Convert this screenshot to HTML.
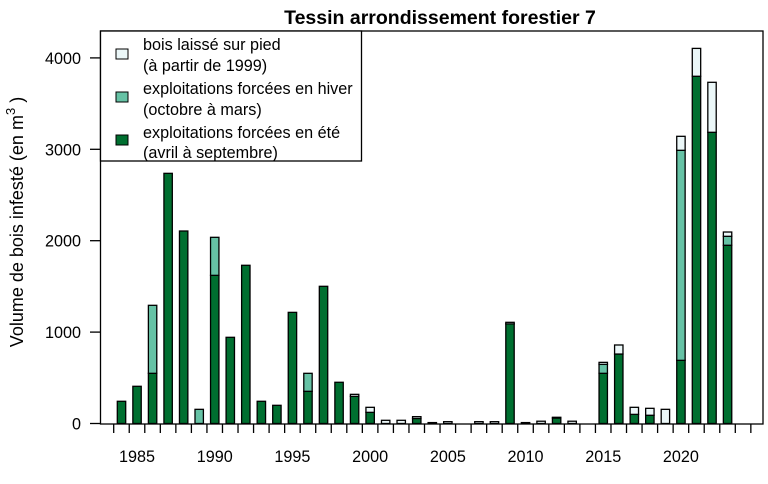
<!DOCTYPE html><html><head><meta charset="utf-8"><style>body{margin:0;background:#fff}svg{display:block;font-family:"Liberation Sans",sans-serif}</style></head><body>
<svg width="768" height="484" xmlns="http://www.w3.org/2000/svg" id="s">
<text x="440" y="24" font-size="19.5" font-weight="bold" text-anchor="middle">Tessin arrondissement forestier 7</text>
<g id="bars" stroke="#000" stroke-width="1.3"></g>
<rect x="100.5" y="31" width="662.5" height="393" fill="none" stroke="#000" stroke-width="1.3"/>
<g id="ax" stroke="#000" stroke-width="1.3"></g>
<g id="lab" font-size="16.2"></g>
<text transform="translate(23,222) rotate(-90)" font-size="18" text-anchor="middle">Volume de bois infesté (en m<tspan dy="-8" font-size="13">3</tspan><tspan dy="8"> )</tspan></text>
<rect x="100.5" y="31" width="261" height="130" fill="#fff" stroke="#000" stroke-width="1.3"/>
<g font-size="16.2" stroke="#000" stroke-width="1">
<rect x="116" y="49" width="12" height="10" fill="#ebf7f8"/>
<rect x="116" y="92" width="12" height="10" fill="#66c2a5"/>
<rect x="116" y="135" width="12" height="10" fill="#006f30"/>
<g stroke="none"><text x="143" y="50">bois laissé sur pied</text><text x="143" y="71">(à partir de 1999)</text>
<text x="143" y="94">exploitations forcées en hiver</text><text x="143" y="115">(octobre à mars)</text>
<text x="143" y="138">exploitations forcées en été</text><text x="143" y="158">(avril à septembre)</text></g></g>
</svg>
<script>
var d={1984:[243,0,0],1985:[407,0,0],1986:[549,744,0],1987:[2737,0,0],1988:[2106,0,0],1989:[0,155,0],1990:[1621,416,0],1991:[943,0,0],1992:[1731,0,0],1993:[243,0,0],1994:[199,0,0],1995:[1216,0,0],1996:[352,197,0],1997:[1501,0,0],1998:[451,0,0],1999:[297,0,22],2000:[122,0,55],2001:[0,0,35],2002:[0,0,35],2003:[55,0,20],2004:[10,0,0],2005:[0,0,20],2007:[0,0,20],2008:[0,0,20],2009:[1090,0,17],2010:[10,0,0],2011:[0,0,25],2012:[60,0,8],2013:[0,0,25],2015:[549,98,22],2016:[760,0,99],2017:[100,0,77],2018:[90,0,76],2019:[0,0,155],2020:[691,2298,153],2021:[3799,0,305],2022:[3186,0,547],2023:[1950,98,47]};
var N="http://www.w3.org/2000/svg",s=0.0914,y0=423.5,col=["#006f30","#66c2a5","#ebf7f8"];
function el(p,t,a,tx){var e=document.createElementNS(N,t);for(var k in a)e.setAttribute(k,a[k]);if(tx!==undefined)e.textContent=tx;document.getElementById(p).appendChild(e);}
for(var y in d){var x=121.5+(y-1984)*15.54-4.2,b=y0;for(var i=0;i<3;i++){var v=d[y][i];if(!v)continue;var h=v*s;el("bars","rect",{x:x,y:b-h,width:8.4,height:h,fill:col[i]});b-=h;}}
for(var k=0;k<=41;k++){var tx=113.7+k*15.54;el("ax","line",{x1:tx,y1:424,x2:tx,y2:433});}
for(var yr=1985;yr<=2020;yr+=5)el("lab","text",{x:121.5+(yr-1984)*15.54,y:462,"text-anchor":"middle"},yr);
for(var v=0;v<=4000;v+=1000){var ty=y0-v*s;el("ax","line",{x1:90,y1:ty,x2:100.5,y2:ty});el("lab","text",{x:81,y:ty+6,"text-anchor":"end"},v);}
</script></body></html>
